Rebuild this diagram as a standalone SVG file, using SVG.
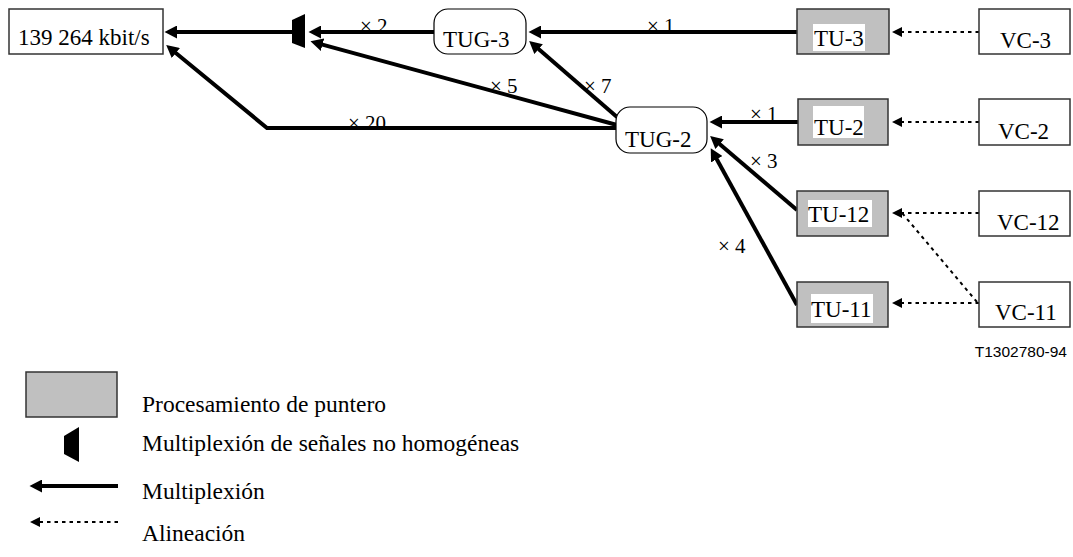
<svg xmlns="http://www.w3.org/2000/svg" width="1073" height="557" viewBox="0 0 1073 557">
  <style>
    text { font-family: "Liberation Serif", "Times New Roman", serif; font-size: 23px; fill: #000; }
    .box { fill: #fff; stroke: #333; stroke-width: 1.5; }
    .ptr { fill: #c0c0c0; stroke: #333; stroke-width: 1.5; }
    .tug { fill: #fff; stroke: #000; stroke-width: 1.2; }
    .bg { fill: #fff; }
    .mux { stroke: #000; stroke-width: 4; fill: none; marker-end: url(#ah); }
    .aln { stroke: #000; stroke-width: 2; stroke-dasharray: 3.5 4; fill: none; }
    .alnA { marker-end: url(#ahs); }
    .mult { font-size: 21px; }
    .leg { font-size: 23.5px; }
    .code { font-family: "Liberation Sans", Arial, sans-serif; font-size: 15.5px; }
  </style>
  <defs>
    <marker id="ah" markerUnits="userSpaceOnUse" markerWidth="13" markerHeight="13" refX="2" refY="6.5" orient="auto">
      <path d="M0,0 L12.5,6.5 L0,13 z" fill="#000"/>
    </marker>
    <marker id="ahs" markerUnits="userSpaceOnUse" markerWidth="11" markerHeight="11" refX="2" refY="5" orient="auto">
      <path d="M0,0 L10,5 L0,10 z" fill="#000"/>
    </marker>
  </defs>

  <!-- multiplicity labels -->
  <g id="labels">
    <text class="mult" x="360" y="33">× 2</text>
    <text class="mult" x="647" y="33">× 1</text>
    <text class="mult" x="490" y="93">× 5</text>
    <text class="mult" x="584" y="93">× 7</text>
    <text class="mult" x="348" y="130">× 20</text>
    <text class="mult" x="750" y="121">× 1</text>
    <text class="mult" x="750" y="168">× 3</text>
    <text class="mult" x="718" y="253">× 4</text>
  </g>

  <!-- connectors -->
  <g id="connectors">
    <line class="mux" x1="292" y1="32" x2="175" y2="32"/>
    <line class="mux" x1="434" y1="32" x2="319" y2="32"/>
    <line class="mux" x1="797" y1="32" x2="539" y2="32"/>
    <line class="mux" x1="617" y1="117" x2="537.1" y2="47.8"/>
    <line class="mux" x1="617" y1="125" x2="320.6" y2="44.1"/>
    <path class="mux" d="M616,128 L267,128 L174.3,51.7"/>
    <line class="mux" x1="798" y1="122" x2="720" y2="122"/>
    <line class="mux" x1="797" y1="210" x2="718.1" y2="142.8"/>
    <line class="mux" x1="797" y1="305" x2="715.8" y2="157.5"/>

    <line class="aln alnA" x1="979" y1="32" x2="900" y2="32"/>
    <line class="aln alnA" x1="979" y1="122" x2="900" y2="122"/>
    <line class="aln alnA" x1="979" y1="213" x2="900" y2="213"/>
    <line class="aln alnA" x1="979" y1="303" x2="900" y2="303"/>
    <line class="aln" x1="977" y1="302" x2="902" y2="213"/>
  </g>

  <!-- nodes -->
  <g id="n-139264">
    <rect class="box" x="9" y="9" width="154" height="45"/>
    <text x="18" y="45" font-size="24.5">139 264 kbit/s</text>
  </g>
  <g id="n-mux">
    <polygon points="292,20 305,14 305,48 292,43" fill="#000"/>
  </g>
  <g id="n-tug3">
    <rect class="tug" x="434" y="9" width="92" height="45" rx="14" ry="14"/>
    <text x="443" y="47" font-size="23.5">TUG-3</text>
  </g>
  <g id="n-tug2">
    <rect class="tug" x="616" y="107" width="91" height="46" rx="14" ry="14"/>
    <text x="625" y="147" font-size="23.5">TUG-2</text>
  </g>
  <g id="n-tu3">
    <rect class="ptr" x="797" y="9" width="92" height="45"/>
    <rect class="bg" x="813" y="24" width="52" height="27"/>
    <text x="814" y="46">TU-3</text>
  </g>
  <g id="n-tu2">
    <rect class="ptr" x="798" y="99" width="90" height="46"/>
    <rect class="bg" x="813" y="106" width="51" height="32"/>
    <text x="814" y="135">TU-2</text>
  </g>
  <g id="n-tu12">
    <rect class="ptr" x="797" y="191" width="91" height="45"/>
    <rect class="bg" x="808" y="200" width="64" height="27"/>
    <text x="808" y="222">TU-12</text>
  </g>
  <g id="n-tu11">
    <rect class="ptr" x="797" y="282" width="91" height="45"/>
    <rect class="bg" x="811" y="294" width="62" height="29"/>
    <text x="811" y="317">TU-11</text>
  </g>
  <g id="n-vc3">
    <rect class="box" x="979" y="9" width="91" height="45"/>
    <text x="1000" y="48">VC-3</text>
  </g>
  <g id="n-vc2">
    <rect class="box" x="979" y="99" width="91" height="46"/>
    <text x="998" y="139">VC-2</text>
  </g>
  <g id="n-vc12">
    <rect class="box" x="979" y="191" width="91" height="45"/>
    <text x="997" y="230">VC-12</text>
  </g>
  <g id="n-vc11">
    <rect class="box" x="979" y="282" width="91" height="45"/>
    <text x="995" y="320">VC-11</text>
  </g>

  <text class="code" x="1067" y="357" text-anchor="end">T1302780-94</text>

  <!-- legend -->
  <g id="legend">
    <rect class="ptr" x="26" y="372" width="91" height="45"/>
    <text class="leg" x="142" y="412">Procesamiento de puntero</text>
    <polygon points="64,436 79,427 79,462 64,454" fill="#000"/>
    <text class="leg" x="142" y="451">Multiplexión de señales no homogéneas</text>
    <line class="mux" x1="118" y1="486" x2="40" y2="486"/>
    <text class="leg" x="142" y="499">Multiplexión</text>
    <line class="aln alnA" x1="118" y1="522" x2="38" y2="522"/>
    <text class="leg" x="142" y="541">Alineación</text>
  </g>
</svg>
